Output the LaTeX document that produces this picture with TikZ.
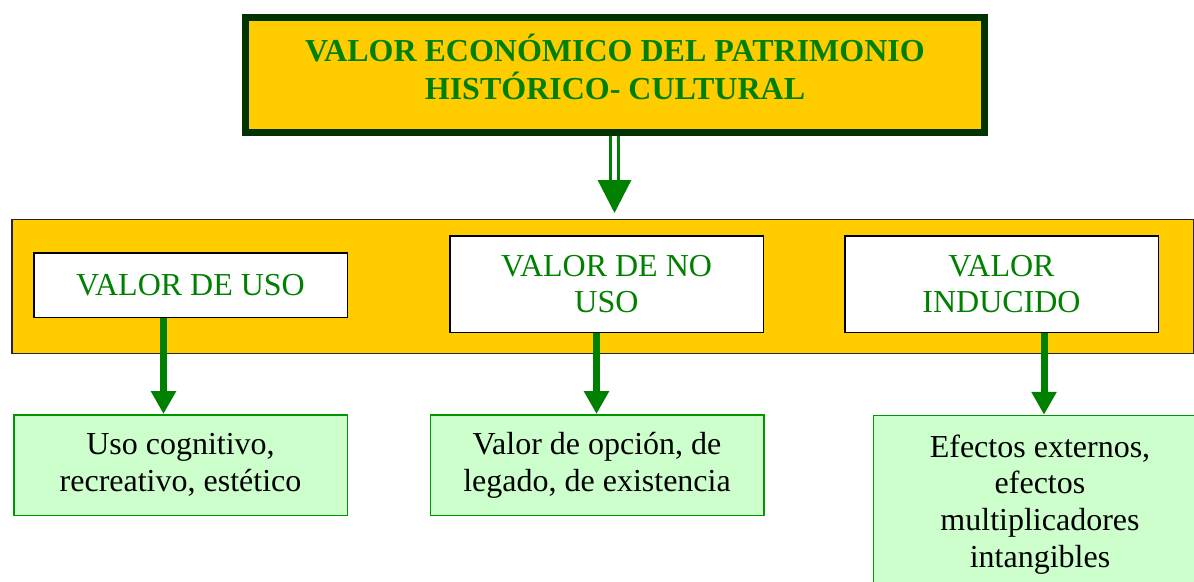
\documentclass[tikz,border=0pt]{standalone}
\usepackage{fontspec}
\setmainfont{Liberation Serif}
\newfontfamily\tnr{Liberation Serif}
\usetikzlibrary{arrows.meta}
\definecolor{gold}{RGB}{255,204,0}
\definecolor{dkgreen}{RGB}{0,51,0}
\definecolor{txtgreen}{RGB}{0,128,0}
\definecolor{lightgreen}{RGB}{204,255,204}
\definecolor{boxgreen}{RGB}{0,150,0}
\begin{document}
\begin{tikzpicture}[x=1pt,y=-1pt,
  titlebox/.style={draw=dkgreen, line width=7pt, fill=gold, text=txtgreen,
    font=\tnr\fontsize{32}{38}\selectfont\bfseries, align=center,
    minimum width=739pt, minimum height=115pt, inner sep=0pt, text depth=16pt},
  bandbox/.style={draw=black!85, line width=1.5pt, fill=gold,
    minimum width=1181.5pt, minimum height=134pt, inner sep=0pt},
  valbox/.style={draw=black, line width=1.5pt, fill=white, text=txtgreen,
    font=\tnr\fontsize{32}{35.5}\selectfont, align=center,
    minimum width=313.5pt, inner sep=0pt},
  resbox/.style={draw=boxgreen, line width=1.5pt, fill=lightgreen, text=black,
    font=\tnr\fontsize{32}{36.7}\selectfont, align=center,
    minimum width=333.5pt, inner xsep=0pt},
  arr/.style={draw=txtgreen, line width=7pt, -{Triangle[width=24pt,length=23pt]}},
  dblarr/.style={draw=txtgreen, line width=3.2pt, double=white, double distance=4.5pt,
    -{Triangle[width=33pt,length=33pt]}}
]
\useasboundingbox (0,0) rectangle (1194,581);
\clip (0,0) rectangle (1194,581);

\node[titlebox] (top) at (615,75) {VALOR ECONÓMICO DEL PATRIMONIO\\HISTÓRICO- CULTURAL};

\node[bandbox] (band) at (602.5,286.25) {};

\node[valbox, minimum height=64.5pt] (uso) at (190.5,285) {VALOR DE USO};
\node[valbox, minimum height=96.5pt] (nouso) at (606.5,284) {VALOR DE NO\\USO};
\node[valbox, minimum height=96.5pt] (induc) at (1001.5,284) {VALOR\\INDUCIDO};

\node[resbox, minimum height=100.5pt, inner ysep=0pt] (r1) at (180.5,465) {Uso cognitivo,\\recreativo, estético};
\node[resbox, minimum height=100.5pt, inner ysep=0pt] (r2) at (597,465) {Valor de opción, de\\legado, de existencia};
\node[resbox, anchor=north, inner ysep=19pt] (r3) at (1040,414.75) {Efectos externos,\\efectos\\multiplicadores\\intangibles};

\coordinate (c0) at (614.5,0);
\coordinate (c1) at (163.5,0);
\coordinate (c2) at (596.5,0);
\coordinate (c3) at (1044,0);

\draw[dblarr, shorten >=5.5pt] (top.south -| c0) -- (band.north -| c0);
\draw[arr] (uso.south -| c1) -- (r1.north -| c1);
\draw[arr] (nouso.south -| c2) -- (r2.north -| c2);
\draw[arr] (induc.south -| c3) -- (r3.north -| c3);
\end{tikzpicture}
\end{document}
